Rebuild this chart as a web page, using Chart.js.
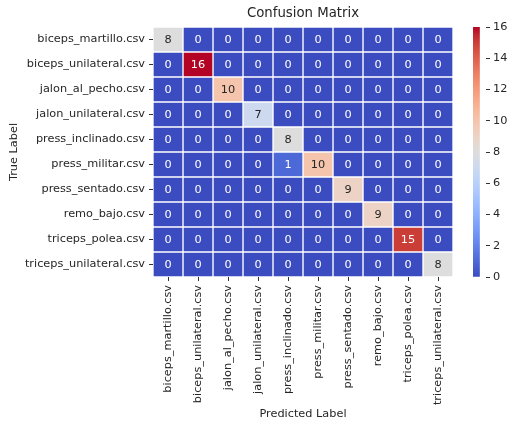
<!DOCTYPE html>
<html>
<head>
<meta charset="utf-8">
<script src="https://cdn.jsdelivr.net/npm/chart.js@4.4.0/dist/chart.umd.min.js"></script>
<style>
  body { margin: 0; background: #fff; }
  #wrap { position: relative; width: 516px; height: 428px; }
  #matrixChart { position: absolute; left: 0; top: 0; }
  #colorbar { position: absolute; left: 453px; top: 0; }
</style>
</head>
<body>
<div id="wrap">
  <canvas id="matrixChart" width="516" height="428"></canvas>
  <canvas id="colorbar" width="63" height="428"></canvas>
</div>
<script>
const trueLabels = ["biceps_martillo.csv", "biceps_unilateral.csv", "jalon_al_pecho.csv", "jalon_unilateral.csv",
    "press_inclinado.csv", "press_militar.csv", "press_sentado.csv", "remo_bajo.csv",
    "triceps_polea.csv", "triceps_unilateral.csv"];
const predictedLabels = trueLabels.slice();

// rows = true label, columns = predicted label
const counts = [
    [8, 0, 0, 0, 0, 0, 0, 0, 0, 0],
    [0, 16, 0, 0, 0, 0, 0, 0, 0, 0],
    [0, 0, 10, 0, 0, 0, 0, 0, 0, 0],
    [0, 0, 0, 7, 0, 0, 0, 0, 0, 0],
    [0, 0, 0, 0, 8, 0, 0, 0, 0, 0],
    [0, 0, 0, 0, 1, 10, 0, 0, 0, 0],
    [0, 0, 0, 0, 0, 0, 9, 0, 0, 0],
    [0, 0, 0, 0, 0, 0, 0, 9, 0, 0],
    [0, 0, 0, 0, 0, 0, 0, 0, 15, 0],
    [0, 0, 0, 0, 0, 0, 0, 0, 0, 8]
];
const colorbarTicks = [0, 2, 4, 6, 8, 10, 12, 14, 16];

const vmin = 0;
const vmax = 16;
const fontFamily = '"DejaVu Sans", sans-serif';
const textColor = "#262626";
const labelSize = 11.3;

// coolwarm colormap, evenly spaced stops
const coolwarm = [
    [59, 76, 192], [68, 90, 204], [77, 104, 215], [87, 117, 225], [98, 130, 234], [108, 142, 241],
    [119, 154, 247], [130, 165, 251], [141, 176, 254], [152, 185, 255], [163, 194, 255], [174, 201, 253],
    [184, 208, 249], [194, 213, 244], [204, 217, 238], [213, 219, 230], [221, 221, 221], [229, 216, 209],
    [236, 211, 197], [241, 204, 184], [245, 196, 172], [247, 187, 159], [247, 177, 147], [247, 166, 134],
    [244, 154, 123], [241, 141, 111], [236, 127, 99], [229, 112, 89], [222, 96, 77], [213, 80, 66],
    [203, 62, 56], [192, 40, 47], [180, 4, 38]
];

function cmap(t) {
    t = Math.max(0, Math.min(1, t));
    const pos = t * (coolwarm.length - 1);
    const k = Math.min(Math.floor(pos), coolwarm.length - 2);
    const f = pos - k;
    const a = coolwarm[k], b = coolwarm[k + 1];
    return [0, 1, 2].map(n => Math.round(a[n] + (b[n] - a[n]) * f));
}

function rgb(c) {
    return "rgb(" + c[0] + "," + c[1] + "," + c[2] + ")";
}

function luminance(c) {
    const lin = c.map(v => {
        v = v / 255;
        return v <= 0.03928 ? v / 12.92 : Math.pow((v + 0.055) / 1.055, 2.4);
    });
    return 0.2126 * lin[0] + 0.7152 * lin[1] + 0.0722 * lin[2];
}

function cellColor(v) {
    return cmap((v - vmin) / (vmax - vmin));
}

// write the count in the middle of every cell
const cellText = {
    id: "cellText",
    afterDatasetsDraw(chart) {
        const ctx = chart.ctx;
        ctx.save();
        ctx.font = labelSize + "px " + fontFamily;
        ctx.textAlign = "center";
        ctx.textBaseline = "middle";
        chart.data.datasets.forEach((ds, j) => {
            chart.getDatasetMeta(j).data.forEach((bar, i) => {
                const v = counts[i][j];
                ctx.fillStyle = luminance(cellColor(v)) > 0.408 ? textColor : "#ffffff";
                const p = bar.getCenterPoint();
                ctx.fillText(String(v), p.x, p.y + 0.5);
            });
        });
        ctx.restore();
    }
};

const datasets = predictedLabels.map((name, j) => ({
    label: name,
    data: trueLabels.map(() => 1),
    backgroundColor: counts.map(row => rgb(cellColor(row[j]))),
    borderColor: "#ffffff",
    borderWidth: 1,
    borderSkipped: false,
    barPercentage: 1,
    categoryPercentage: 1
}));

new Chart(document.getElementById("matrixChart"), {
    type: "bar",
    data: { labels: trueLabels, datasets: datasets },
    options: {
        indexAxis: "y",
        responsive: false,
        animation: false,
        layout: { padding: { left: 0, right: 63, top: 0, bottom: 0 } },
        plugins: {
            legend: { display: false },
            tooltip: { enabled: false },
            title: {
                display: true,
                text: "Confusion Matrix",
                fullSize: false,
                color: textColor,
                font: { family: fontFamily, size: 13.3, weight: "normal" },
                padding: { top: 5.5, bottom: 5.5 }
            }
        },
        scales: {
            x: {
                type: "linear",
                stacked: true,
                min: 0,
                max: predictedLabels.length,
                afterBuildTicks: s => { s.ticks = predictedLabels.map((n, i) => ({ value: i + 0.5 })); },
                afterFit: s => { s.height = 151; },
                ticks: {
                    autoSkip: false,
                    minRotation: 90,
                    maxRotation: 90,
                    padding: 4,
                    color: textColor,
                    font: { family: fontFamily, size: labelSize },
                    callback: (v, i) => predictedLabels[i]
                },
                grid: { drawOnChartArea: false, tickLength: 4, color: "#333", tickWidth: 1 },
                border: { display: false },
                title: {
                    display: true,
                    text: "Predicted Label",
                    color: textColor,
                    font: { family: fontFamily, size: labelSize },
                    padding: { top: 0, bottom: 7 }
                }
            },
            y: {
                stacked: true,
                offset: true,
                afterFit: s => { s.width = 153; },
                ticks: {
                    padding: 4,
                    color: textColor,
                    font: { family: fontFamily, size: labelSize }
                },
                grid: { offset: false, drawOnChartArea: false, tickLength: 4, color: "#333", tickWidth: 1 },
                border: { display: false },
                title: {
                    display: true,
                    text: "True Label",
                    color: textColor,
                    font: { family: fontFamily, size: labelSize },
                    padding: { top: 7, bottom: 0 }
                }
            }
        }
    },
    plugins: [cellText]
});

// colour bar
new Chart(document.getElementById("colorbar"), {
    type: "bar",
    data: {
        labels: [""],
        datasets: [{
            data: [[vmin, vmax]],
            backgroundColor: c => {
                const ch = c.chart;
                if (!ch.chartArea) return rgb(cmap(0.5));
                const y = ch.scales.y;
                const g = ch.ctx.createLinearGradient(0, y.getPixelForValue(vmin), 0, y.getPixelForValue(vmax));
                coolwarm.forEach((s, k) => g.addColorStop(k / (coolwarm.length - 1), rgb(s)));
                return g;
            },
            borderWidth: 0,
            barPercentage: 1,
            categoryPercentage: 1
        }]
    },
    options: {
        responsive: false,
        animation: false,
        layout: { padding: { left: 20, right: 0, top: 27, bottom: 151 } },
        plugins: { legend: { display: false }, tooltip: { enabled: false } },
        scales: {
            x: { display: false, offset: false },
            y: {
                position: "right",
                min: vmin,
                max: vmax,
                afterBuildTicks: s => { s.ticks = colorbarTicks.map(v => ({ value: v })); },
                afterFit: s => { s.width = 30; },
                ticks: {
                    padding: 3,
                    color: textColor,
                    font: { family: fontFamily, size: labelSize }
                },
                grid: { drawOnChartArea: false, tickLength: 4, color: "#333", tickWidth: 1 },
                border: { display: false }
            }
        }
    }
});
</script>
</body>
</html>
